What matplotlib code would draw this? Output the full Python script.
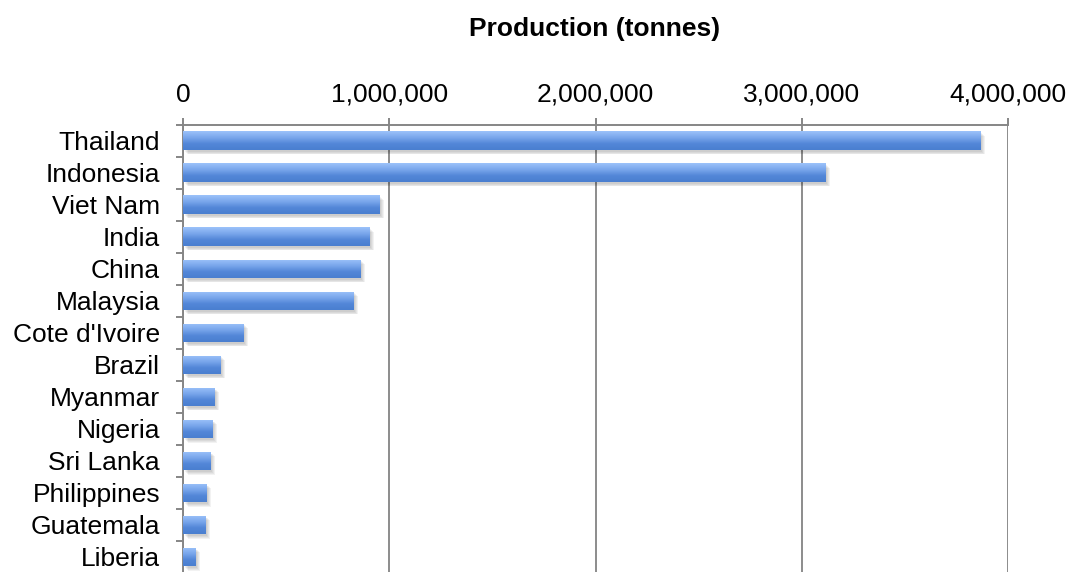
import numpy as np
import matplotlib
matplotlib.use("Agg")
from matplotlib import pyplot as plt
from matplotlib.ticker import FuncFormatter
import matplotlib.transforms as mtransforms

countries = ["Thailand", "Indonesia", "Viet Nam", "India", "China", "Malaysia",
             "Cote d'Ivoire", "Brazil", "Myanmar", "Nigeria", "Sri Lanka",
             "Philippines", "Guatemala", "Liberia"]
production = [3868000, 3115000, 954000, 904000, 863000, 829000,
              291000, 184000, 155000, 145000, 132000, 115000, 108000, 63000]
xticks = [0, 1000000, 2000000, 3000000, 4000000]

plt.rcParams['font.family'] = ['Liberation Sans', 'DejaVu Sans']

fig = plt.figure(figsize=(10.71, 5.72), dpi=100)
W, H = 1071, 572
ax = fig.add_axes([183 / W, -1 / H, (1008 - 183) / W, (572 - 124.7 + 1) / H])

n = len(countries)
y = np.arange(n)
bh = 0.58

# soft shadow under the bars
for k in range(4):
    ax.barh(y + 0.06 + k * 0.025, production, height=bh, left=0, color='black',
            alpha=0.05, zorder=2,
            transform=ax.transData + mtransforms.ScaledTranslation((1.5 + k) / 100, 0, fig.dpi_scale_trans))

bars = ax.barh(y, production, height=bh, color='#6d9ae6', zorder=3)

grad = np.linspace(0, 1, 64).reshape(-1, 1)
cmap = matplotlib.colors.LinearSegmentedColormap.from_list(
    'g', ['#9cc2fa', '#7aa7ec', '#5387d8', '#4a7fd0'])
for b, v, yy in zip(bars, production, y):
    im = ax.imshow(grad, cmap=cmap, aspect='auto', zorder=4,
                   extent=[0, v, yy + bh / 2, yy - bh / 2])
    im.set_clip_path(b)

ax.set_xlim(0, 4000000)
ax.set_ylim(n - 0.5, -0.5)

ax.xaxis.tick_top()
ax.set_xticks(xticks)
ax.xaxis.set_major_formatter(FuncFormatter(lambda v, p: f"{int(v):,}"))
ax.tick_params(axis='x', length=5, width=1.4, color='#868686', labelsize=19, pad=8)
ax.grid(axis='x', color='#8c8c8c', linewidth=1.4, zorder=1)

ax.set_yticks(np.arange(n + 1) - 0.5)
ax.set_yticklabels([])
ax.set_yticks(y, minor=True)
ax.set_yticklabels(countries, minor=True, fontsize=19)
ax.tick_params(axis='y', which='major', length=5, width=1.4, color='#868686')
ax.tick_params(axis='y', which='minor', length=0, pad=16.5)

for s in ['right', 'bottom']:
    ax.spines[s].set_visible(False)
for s in ['top', 'left']:
    ax.spines[s].set_color('#868686')
    ax.spines[s].set_linewidth(1.4)

fig.text(595 / W, 1 - 29 / H, "Production (tonnes)", ha='center', va='center',
         fontsize=19, fontweight='bold')

fig.savefig("out.png", dpi=100)
